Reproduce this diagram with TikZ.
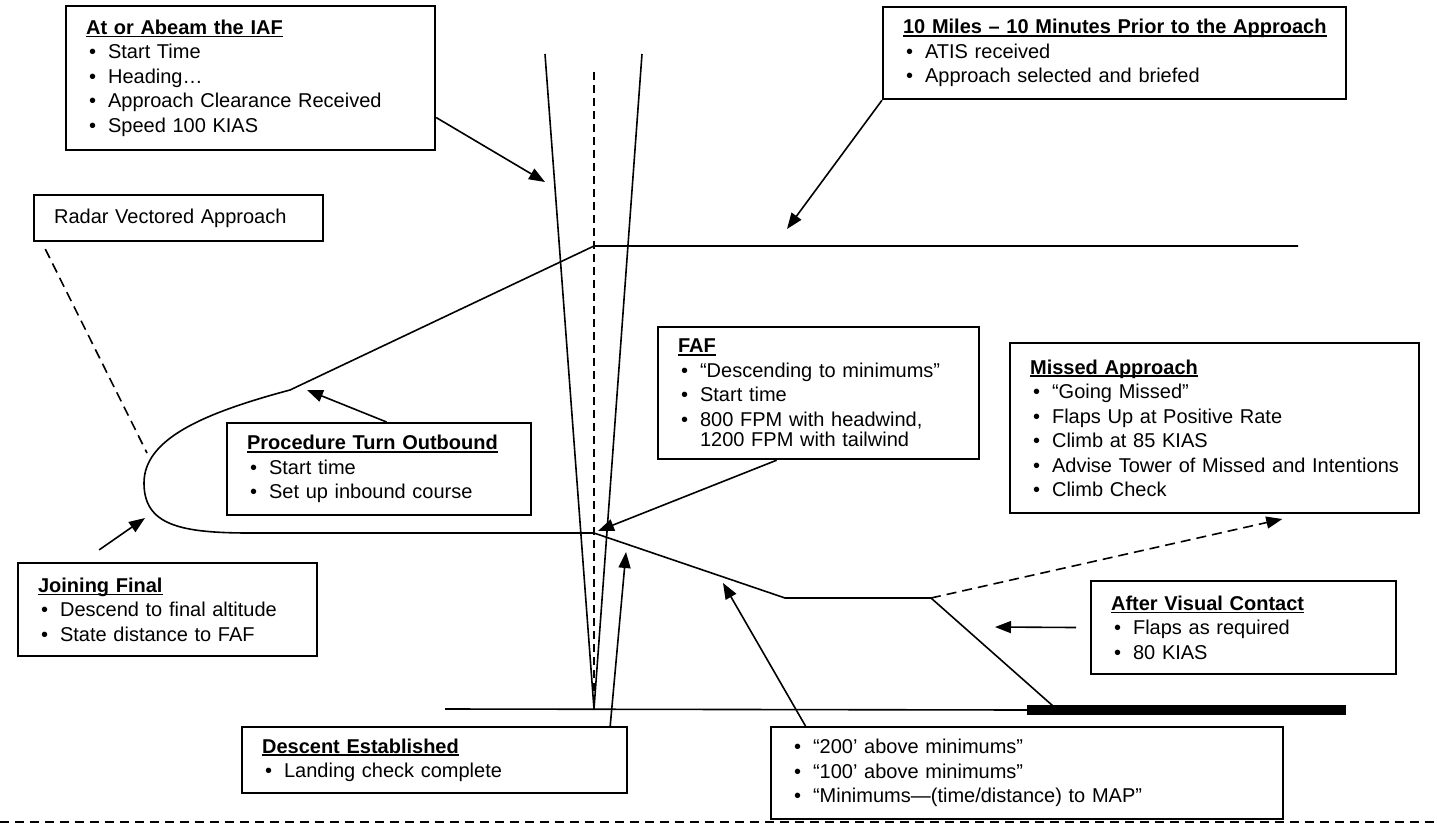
\documentclass[tikz,border=0pt]{standalone}
\usepackage{fontspec}
\setmainfont{Liberation Sans}
\usetikzlibrary{arrows.meta}

\newsavebox{\hdbox}
\newcommand{\hd}[1]{\sbox{\hdbox}{\textbf{#1}}\rlap{\rule[-1.6pt]{\wd\hdbox}{0.9pt}}\usebox{\hdbox}}
\newcommand{\bl}[1]{\makebox[11pt][l]{\hspace{1.5pt}\textbullet}#1}

\begin{document}
\begin{tikzpicture}[x=0.5pt, y=-0.5pt,
	box/.style={draw, line width=1.1pt, anchor=north west, align=left,
		inner xsep=10pt, inner ysep=0pt, font=\fontsize{10}{12.25}\selectfont},
	line/.style={line width=0.8pt},
	arr/.style={line width=0.8pt, -{Triangle[length=8pt, width=6pt]}},
	dsh/.style={line width=0.8pt, dash pattern=on 5pt off 3pt}]

	\useasboundingbox (0,0) rectangle (1437,825);

	% text boxes
	\node[box, text width=164.5pt, minimum height=72pt] (iaf) at (65,5)
		{\hd{At or Abeam the IAF}\\ \bl{Start Time}\\ \bl{Heading…}\\
		 \bl{Approach Clearance Received}\\ \bl{Speed 100 KIAS}};
	\node[box, text width=124.5pt, minimum height=23pt] (radar) at (33,194)
		{Radar Vectored Approach};
	\node[box, text width=211.5pt, minimum height=46pt] (tenmin) at (882,6)
		{\hd{10 Miles – 10 Minutes Prior to the Approach}\\
		 \bl{ATIS received}\\ \bl{Approach selected and briefed}};
	\node[box, text width=132pt, minimum height=46pt] (ptout) at (226,422)
		{\hd{Procedure Turn Outbound}\\ \bl{Start time}\\ \bl{Set up inbound course}};
	\node[box, text width=129.5pt, minimum height=46.5pt] (join) at (17,562)
		{\hd{Joining Final}\\ \bl{Descend to final altitude}\\ \bl{State distance to FAF}};
	\node[box, text width=140.5pt, minimum height=66pt] (faf) at (657,326)
		{\hd{FAF}\\ \bl{“Descending to minimums”}\\ \bl{Start time}\\
		 \bl{800 FPM with headwind,}\\[-2pt] \hspace*{11pt}1200 FPM with tailwind};
	\node[box, text width=184.5pt, minimum height=85pt] (missed) at (1009,342)
		{\hd{Missed Approach}\\ \bl{“Going Missed”}\\ \bl{Flaps Up at Positive Rate}\\
		 \bl{Climb at 85 KIAS}\\ \bl{Advise Tower of Missed and Intentions}\\ \bl{Climb Check}};
	\node[box, text width=132.5pt, minimum height=46.5pt] (avc) at (1090,580)
		{\hd{After Visual Contact}\\ \bl{Flaps as required}\\ \bl{80 KIAS}};
	\node[box, text width=172.5pt, minimum height=33pt] (desc) at (241,726)
		{\hd{Descent Established}\\ \bl{Landing check complete}};
	\node[box, text width=236pt, minimum height=46pt] (mins) at (770,726)
		{\bl{“200’ above minimums”}\\ \bl{“100’ above minimums”}\\
		 \bl{“Minimums—(time/distance) to MAP”}};

	% approach geometry
	\coordinate (thr) at (594,709);
	\coordinate (lbeam) at (545,54);
	\coordinate (rbeam) at (642,54);
	\coordinate (ctop) at (594,72);
	\coordinate (gstart) at (445,709);
	\coordinate (rwyA) at (1027,710);
	\coordinate (rwyB) at (1346,710);
	\coordinate (tenend) at (1298,246);
	\coordinate (ptstart) at (594,246);
	\coordinate (ptknee) at (290,390);
	\coordinate (ptleft) at (144,483);
	\coordinate (ptback) at (250,533);
	\coordinate (faffix) at (594,533);
	\coordinate (stepdown) at (785,598);
	\coordinate (mapt) at (931,598);
	\coordinate (touch) at (1053,706);

	\draw[line] (lbeam) -- (thr) -- (rbeam);
	\draw[line, dash pattern=on 4pt off 2.5pt] (ctop) -- (thr);
	\draw[line] (gstart) -- (rwyA);
	\draw[line width=5pt] (rwyA) -- (rwyB);
	\draw[line] (tenend) -- (ptstart) -- (ptknee)
		.. controls (200,414) and (144,440) .. (ptleft)
		.. controls (144,525) and (180,533) .. (ptback)
		-- (faffix) -- (stepdown) -- (mapt) -- (touch);

	% arrow tips
	\coordinate (iaftip) at (545,182);
	\coordinate (tentip) at (787,229);
	\coordinate (pttip) at (307,390);
	\coordinate (jointip) at (145,518);
	\coordinate (faftip) at (598,531);
	\coordinate (desctip) at (626,552);
	\coordinate (minstip) at (723,583);
	\coordinate (avctip) at (995,627);
	\coordinate (radarend) at (147,453);

	\draw[arr] (iaf.-12.5) -- (iaftip);
	\draw[arr] (tenmin.south west) -- (tentip);
	\draw[arr] (ptout.81.3) -- (pttip);
	\draw[arr, shorten <=10.6pt] (join.151.6) -- (jointip);
	\draw[arr] (faf.-122.8) -- (faftip);
	\draw[arr] (desc.north east) ++(-18,0) -- (desctip);
	\draw[arr] (mins.168.4) -- (minstip);
	\draw[arr, shorten <=7pt] (avc.west) -- (avctip);
	\draw[arr, dsh, shorten >=11pt] (mapt) -- (missed.-44);
	\draw[dsh, shorten <=3.9pt] (radar.-170) -- (radarend);

	% page rule
	\draw[line width=1pt, dash pattern=on 4.5pt off 3pt] (0,822) -- (1437,822);
\end{tikzpicture}
\end{document}
